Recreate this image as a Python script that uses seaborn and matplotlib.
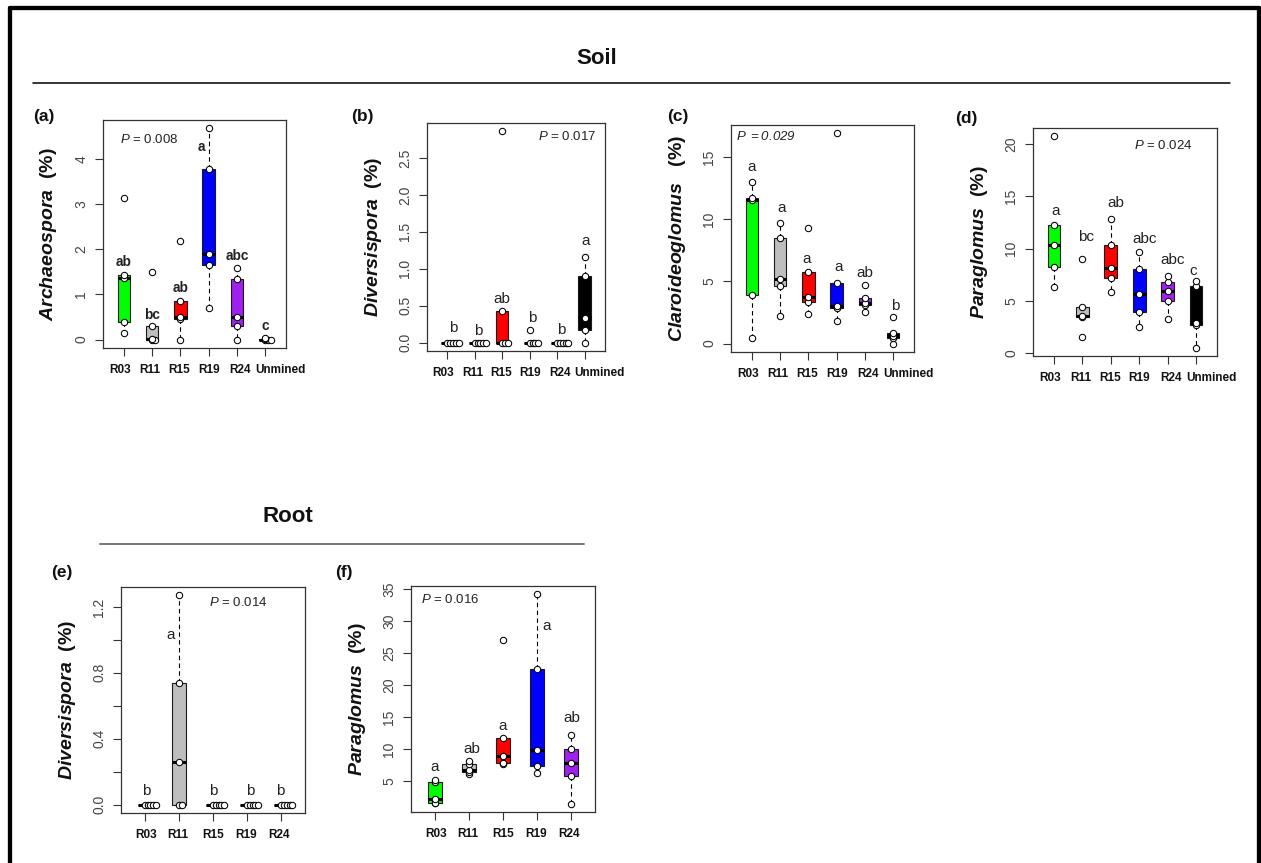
import numpy as np
import pandas as pd
import matplotlib
matplotlib.use("Agg")
import matplotlib.pyplot as plt
from matplotlib.lines import Line2D
from matplotlib.transforms import ScaledTranslation
import seaborn as sns

# ---------------- data ----------------
soil_groups = ["R03", "R11", "R15", "R19", "R24", "Unmined"]
root_groups = ["R03", "R11", "R15", "R19", "R24"]
group_colors = {"R03": "#00FF00", "R11": "#BEBEBE", "R15": "#FF0000",
                "R19": "#0000FF", "R24": "#A020F0", "Unmined": "#000000"}

archaeospora_soil = {
    "R03": [0.15, 0.38, 1.36, 1.43, 3.13],
    "R11": [0.0, 0.0, 0.02, 0.30, 1.49],
    "R15": [0.0, 0.45, 0.51, 0.86, 2.17],
    "R19": [0.70, 1.66, 1.89, 3.78, 4.67],
    "R24": [0.0, 0.30, 0.50, 1.35, 1.59],
    "Unmined": [0.0, 0.0, 0.0, 0.01, 0.04],
}
diversispora_soil = {
    "R03": [0.0, 0.0, 0.0, 0.0, 0.0],
    "R11": [0.0, 0.0, 0.0, 0.0, 0.0],
    "R15": [0.0, 0.0, 0.0, 0.43, 2.86],
    "R19": [0.0, 0.0, 0.0, 0.0, 0.17],
    "R24": [0.0, 0.0, 0.0, 0.0, 0.0],
    "Unmined": [0.0, 0.17, 0.33, 0.90, 1.16],
}
claroideoglomus_soil = {
    "R03": [0.48, 3.88, 11.55, 11.73, 12.94],
    "R11": [2.20, 4.63, 5.17, 8.52, 9.67],
    "R15": [2.36, 3.35, 3.72, 5.71, 9.30],
    "R19": [1.79, 2.84, 3.05, 4.90, 16.88],
    "R24": [2.54, 3.08, 3.30, 3.70, 4.71],
    "Unmined": [0.0, 0.42, 0.62, 0.88, 2.12],
}
paraglomus_soil = {
    "R03": [6.29, 8.22, 10.37, 12.23, 20.74],
    "R11": [1.54, 3.42, 3.50, 4.40, 9.02],
    "R15": [5.87, 7.16, 8.12, 10.37, 12.84],
    "R19": [2.50, 3.95, 5.65, 8.06, 9.66],
    "R24": [3.21, 5.00, 5.90, 6.77, 7.41],
    "Unmined": [0.51, 2.66, 2.89, 6.45, 6.90],
}
diversispora_root = {
    "R03": [0.0, 0.0, 0.0, 0.0, 0.0],
    "R11": [0.0, 0.0, 0.26, 0.74, 1.27],
    "R15": [0.0, 0.0, 0.0, 0.0, 0.0],
    "R19": [0.0, 0.0, 0.0, 0.0, 0.0],
    "R24": [0.0, 0.0, 0.0, 0.0, 0.0],
}
paraglomus_root = {
    "R03": [1.60, 1.65, 2.20, 4.95, 5.25],
    "R11": [6.20, 6.45, 6.85, 7.65, 8.16],
    "R15": [7.76, 7.82, 9.00, 11.74, 27.10],
    "R19": [6.30, 7.34, 9.93, 22.55, 34.20],
    "R24": [1.53, 5.78, 7.85, 10.09, 12.27],
}

letters_a = ["ab", "bc", "ab", "a", "abc", "c"]
letters_b = ["b", "b", "ab", "b", "b", "a"]
letters_c = ["a", "a", "a", "a", "ab", "b"]
letters_d = ["a", "bc", "ab", "abc", "abc", "c"]
letters_e = ["b", "a", "b", "b", "b"]
letters_f = ["a", "ab", "a", "a", "ab"]

p_values = ["0.008", "0.017", "0.029", "0.024", "0.014", "0.016"]

# ---------------- style ----------------
sns.set_style("ticks")
plt.rcParams["font.family"] = ["Liberation Sans", "DejaVu Sans"]
plt.rcParams["mathtext.fontset"] = "custom"
plt.rcParams["mathtext.rm"] = "Liberation Sans"
plt.rcParams["mathtext.it"] = "Liberation Sans:italic:bold"
plt.rcParams["mathtext.sf"] = "Liberation Sans:italic"
plt.rcParams["mathtext.bf"] = "Liberation Sans:bold"

W, H = 1261, 863
fig = plt.figure(figsize=(W / 100, H / 100), dpi=100)
fig.patch.set_facecolor("white")

soil_label_shift = [-4, -2, -1, 0, 3, 15]   # px shift of x category labels
root_label_shift = [1, -1, 0, -1, -2]


def px_rect(l, t, r, b):
    return [l / W, 1 - b / H, (r - l) / W, (b - t) / H]


def draw_panel(rect, groups, values, letters, letter_y, letter_dx, letters_bold,
               ylabel, yticks, ylabels, p_text, p_xy, p_ha, tag, tag_xy, width,
               label_shift):
    l, t, r, b = rect
    ax = fig.add_axes(px_rect(l, t, r, b))
    n = len(groups)
    rows = [(i, g, v) for i, g in enumerate(groups) for v in values[g]]
    df = pd.DataFrame(rows, columns=["pos", "group", "value"])
    sns.boxplot(data=df, x="pos", y="value", hue="group", hue_order=groups,
                palette=group_colors, native_scale=True, orient="x", dodge=False,
                width=width, saturation=1, showfliers=False, whis=1.5,
                linecolor="#1a1a1a", linewidth=0.8, showcaps=False,
                medianprops=dict(color="black", linewidth=2.2),
                whiskerprops=dict(color="black", linewidth=0.8, linestyle=(0, (4, 3))),
                legend=False, ax=ax)
    # stacked points (ties stacked to the right, like stripchart method="stack")
    xlim_pad = 0.5 + 0.04 * n
    unit_px = (r - l) / (n - 1 + 2 * xlim_pad)
    step = 2.8 / unit_px
    xs, ys = [], []
    for i, g in enumerate(groups):
        seen = {}
        for v in values[g]:
            key = round(v, 3)
            k = seen.get(key, 0)
            seen[key] = k + 1
            xs.append(i + k * step)
            ys.append(v)
    sns.scatterplot(x=xs, y=ys, color="white", edgecolor="black", s=21,
                    linewidth=0.75, zorder=6, legend=False, ax=ax)
    allv = np.concatenate([values[g] for g in groups])
    lo, hi = allv.min(), allv.max()
    pad = 0.04 * (hi - lo)
    ax.set_ylim(lo - pad, hi + pad)
    ax.set_xlim(-xlim_pad, n - 1 + xlim_pad)
    ax.set_xticks(range(n), [""] * n)
    base = ax.get_xaxis_transform()
    for i, g in enumerate(groups):
        tr = base + ScaledTranslation(label_shift[i] / 100, -22 / 100, fig.dpi_scale_trans)
        ax.text(i, 0, g, transform=tr, ha="center", va="center", fontsize=8.5,
                fontweight="bold", color="#111111", clip_on=False)
    ax.set_yticks(yticks, ylabels)
    for lab in ax.get_yticklabels():
        lab.set_fontsize(10)
        lab.set_color("#444444")
        lab.set_rotation(90)
        lab.set_va("center")
    ax.tick_params(axis="both", direction="out", length=5.5, width=0.8,
                   color="#333333", pad=5, left=True, bottom=True)
    for sp in ax.spines.values():
        sp.set_visible(True)
        sp.set_color("#333333")
        sp.set_linewidth(0.9)
    ax.set_xlabel("")
    ax.set_ylabel(ylabel, fontsize=14, fontweight="bold", va="center", color="#111111")
    ax.yaxis.set_label_coords(-54 / (r - l), 0.5)
    for i, (txt, yy, dx) in enumerate(zip(letters, letter_y, letter_dx)):
        ax.text(i + dx, yy, txt, ha="center", va="center",
                fontsize=9.8 if letters_bold else 11,
                fontweight="bold" if letters_bold else "normal", color="#222222", zorder=7)
    ax.text(p_xy[0], p_xy[1], p_text, transform=ax.transAxes, ha=p_ha, va="center",
            fontsize=9.5, color="#222222")
    fig.text(tag_xy[0] / W, 1 - tag_xy[1] / H, tag, ha="center", va="center",
             fontsize=12.5, fontweight="bold", color="#111111")
    return ax


# (a)
draw_panel((103, 120, 286, 348), soil_groups, archaeospora_soil, letters_a,
           [1.71, 0.54, 1.13, 4.26, 1.84, 0.30], [0, 0, 0, -0.25, 0, 0], True,
           r"$\mathit{Archaeospora}$  (%)", [0, 1, 2, 3, 4], ["0", "1", "2", "3", "4"],
           r"$\mathsf{P}$ = " + p_values[0], (0.093, 0.915), "left", "(a)", (44, 116), 0.45,
           soil_label_shift)
# (b)
draw_panel((427, 123, 605, 351), soil_groups, diversispora_soil, letters_b,
           [0.195, 0.16, 0.59, 0.33, 0.17, 1.37], [0.2, 0.12, 0, 0.08, 0.15, 0.02], False,
           r"$\mathit{Diversispora}$  (%)", [0, 0.5, 1.0, 1.5, 2.0, 2.5],
           ["0.0", "0.5", "1.0", "1.5", "2.0", "2.5"],
           r"$\mathsf{P}$ = " + p_values[1], (0.95, 0.94), "right", "(b)", (362, 117), 0.45,
           soil_label_shift)
# (c)
draw_panel((731, 125, 914, 352), soil_groups, claroideoglomus_soil, letters_c,
           [14.2, 10.9, 6.83, 6.19, 5.63, 3.03], [0, 0.06, -0.06, 0.08, 0, 0.09], False,
           r"$\mathit{Claroideoglomus}$   (%)", [0, 5, 10, 15], ["0", "5", "10", "15"],
           r"$\mathsf{P}$ $\mathsf{=0.029}$", (0.03, 0.95), "left", "(c)", (678, 117), 0.45,
           soil_label_shift)
# (d)
draw_panel((1033, 128, 1217, 356), soil_groups, paraglomus_soil, letters_d,
           [13.58, 11.08, 14.38, 10.9, 8.86, 7.8], [0.06, 0.14, 0.18, 0.18, 0.18, -0.09], False,
           r"$\mathit{Paraglomus}$  (%)", [0, 5, 10, 15, 20], ["0", "5", "10", "15", "20"],
           r"$\mathsf{P}$ = " + p_values[3], (0.87, 0.925), "right", "(d)", (966, 119), 0.45,
           soil_label_shift)
# (e)
draw_panel((121, 587, 305, 813), root_groups, diversispora_root, letters_e,
           [0.08, 1.03, 0.08, 0.08, 0.08], [0.05, -0.24, 0.02, 0.1, -0.04], False,
           r"$\mathit{Diversispora}$  (%)", [0, 0.2, 0.4, 0.6, 0.8, 1.0, 1.2],
           ["0.0", "", "0.4", "", "0.8", "", "1.2"],
           r"$\mathsf{P}$ = " + p_values[4], (0.80, 0.93), "right", "(e)", (62, 572), 0.42,
           root_label_shift)
# (f)
draw_panel((411, 586, 595, 812), root_groups, paraglomus_root, letters_f,
           [7.23, 10.09, 13.7, 29.3, 14.86], [0, 0.08, 0, 0.27, 0.03], False,
           r"$\mathit{Paraglomus}$  (%)", [5, 10, 15, 20, 25, 30, 35],
           ["5", "10", "15", "20", "25", "30", "35"],
           r"$\mathsf{P}$ = " + p_values[5], (0.054, 0.94), "left", "(f)", (344, 572), 0.42,
           root_label_shift)

# section titles and rules
fig.text(597 / W, 1 - 58 / H, "Soil", ha="center", va="center", fontsize=16,
         fontweight="bold", color="#111111")
fig.add_artist(Line2D([33 / W, 1230 / W], [1 - 83.5 / H] * 2, color="black", lw=1.1))
fig.text(288 / W, 1 - 517 / H, "Root", ha="center", va="center", fontsize=16,
         fontweight="bold", color="#111111")
fig.add_artist(Line2D([100 / W, 584 / W], [1 - 544 / H] * 2, color="#777777", lw=1.4))

# outer frame (left, top, right)
fw = 3.1
fig.add_artist(Line2D([9.5 / W, 9.5 / W], [0, 1 - 8 / H], color="black", lw=fw))
fig.add_artist(Line2D([9.5 / W, 1258.5 / W], [1 - 8 / H] * 2, color="black", lw=fw))
fig.add_artist(Line2D([1258.5 / W, 1258.5 / W], [0, 1 - 8 / H], color="black", lw=fw))

fig.savefig("out.png", dpi=100, facecolor="white")
